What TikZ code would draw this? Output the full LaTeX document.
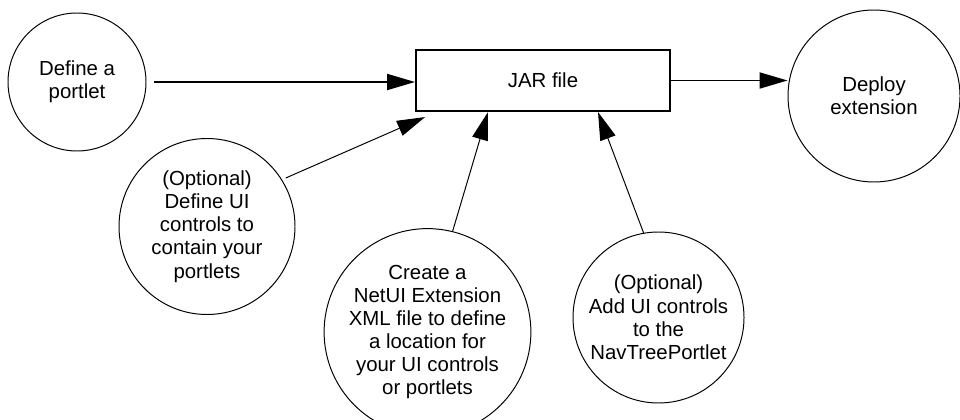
\documentclass[tikz,border=0pt]{standalone}
\usepackage{fontspec}
\setmainfont{Liberation Sans}
\usetikzlibrary{arrows.meta}

\tikzset{
    task/.style={draw, circle, line width=0.7pt, inner sep=0pt, align=center, font=\fontsize{14.5pt}{16.5pt}\selectfont},
    jarbox/.style={draw, rectangle, line width=1.4pt, minimum width=6.35cm, minimum height=1.53cm, font=\fontsize{14.5pt}{16.5pt}\selectfont},
    flow/.style={-{Triangle[length=0.7cm, width=0.4cm]}}
}

\begin{document}
\begin{tikzpicture}
    \useasboundingbox (0,0) rectangle (24,10.475);
    \node [task, minimum size=3.45cm] (portlet) at (1.925,8.425) {Define a\\portlet};
    \node [jarbox] (jar) at (13.575,8.4625) {JAR file};
    \node [task, minimum size=4.3cm] (deploy) at (21.85,8.075) {Deploy\\extension};
    \node [task, minimum size=4.4cm] (optui) at (5.175,4.8125) {(Optional)\\Define UI\\controls to\\contain your\\portlets};
    \node [task, minimum size=5cm] (netui) at (10.6875,2.175) {Create a\\NetUI Extension\\XML file to define\\a location for\\your UI controls\\or portlets};
    \node [task, minimum size=4.275cm] (navtree) at (16.4625,2.5375) {(Optional)\\Add UI controls\\to the\\NavTreePortlet};
    \coordinate (optin) at ([shift={(0.25,-0.125)}]jar.south west);
    \draw [flow, line width=1.4pt, shorten <=0.2cm] (portlet) -- (portlet -| jar.west);
    \draw [flow, line width=1.4pt] (jar.east) -- (jar.east -| deploy.west);
    \draw [flow, line width=0.7pt, shorten <=0.1cm] (optui.32) -- (optin);
    \draw [flow, line width=0.7pt] (netui.76) -- ([xshift=-1.375cm]jar.south);
    \draw [flow, line width=0.7pt] (navtree.100) -- ([xshift=1.375cm]jar.south);
\end{tikzpicture}
\end{document}
